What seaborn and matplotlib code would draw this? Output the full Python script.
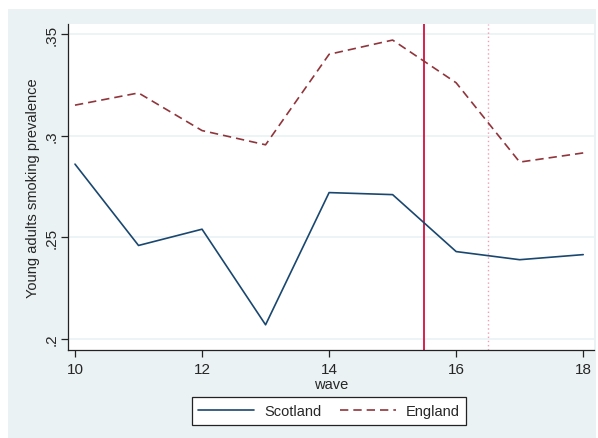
import matplotlib
matplotlib.use("Agg")
import matplotlib.pyplot as plt
from matplotlib.patches import Rectangle
import seaborn as sns
import pandas as pd

# Smoking prevalence among young adults by survey wave
waves = [10, 11, 12, 13, 14, 15, 16, 17, 18]
scotland = [0.286, 0.246, 0.254, 0.207, 0.272, 0.271, 0.243, 0.239, 0.2415]
england = [0.315, 0.321, 0.3025, 0.2955, 0.340, 0.347, 0.326, 0.287, 0.2915]
y_ticks = [0.2, 0.25, 0.3, 0.35]
y_tick_labels = [".2", ".25", ".3", ".35"]
x_ticks = [10, 12, 14, 16, 18]
policy_wave = 15.5
followup_wave = 16.5

df = pd.concat([
    pd.DataFrame({"wave": waves, "prev": scotland, "country": "Scotland"}),
    pd.DataFrame({"wave": waves, "prev": england, "country": "England"}),
])

sns.set_style("ticks")
plt.rcParams["font.family"] = ["Liberation Sans", "DejaVu Sans"]

bg = "#eaf2f3"
W, H = 598, 439
fig = plt.figure(figsize=(W / 100, H / 100), dpi=100, facecolor="white")
# graph region background with a thin white margin
fig.patches.append(Rectangle((8 / W, 0), 588 / W, 1 - 10 / H,
                             transform=fig.transFigure, facecolor=bg,
                             edgecolor="none", zorder=-10))

ax = fig.add_axes([68 / W, 1 - 351 / H, 526 / W, 326 / H])
ax.set_facecolor("white")

sns.lineplot(data=df, x="wave", y="prev", hue="country", style="country",
             palette={"Scotland": "#1a476f", "England": "#90353b"},
             dashes={"Scotland": "", "England": (5, 3)},
             linewidth=1.2, ax=ax, legend=False)

ax.axvline(policy_wave, color="#d91e4e", lw=1.4, zorder=1)
ax.axvline(followup_wave, color="#f29cb4", lw=1.0, ls=(0, (1, 2)), zorder=1)

ax.set_xlim(9.89, 18.17)
ax.set_ylim(0.1946, 0.3549)
ax.set_yticks(y_ticks)
ax.set_yticklabels(y_tick_labels, rotation=90, va="center")
ax.set_xticks(x_ticks)
ax.tick_params(axis="both", labelsize=11, length=5, width=0.9, color="#222222")
ax.tick_params(axis="y", pad=2)
ax.yaxis.grid(True, color=bg, lw=1.2)
ax.set_axisbelow(True)

for side in ("top", "right"):
    ax.spines[side].set_visible(False)
for side in ("left", "bottom"):
    ax.spines[side].set_color("#222222")
    ax.spines[side].set_linewidth(0.9)

ax.set_xlabel("wave", fontsize=10.5, labelpad=1)
ax.set_ylabel("Young adults smoking prevalence", fontsize=10.5, labelpad=3)

handles = [
    plt.Line2D([], [], color="#1a476f", lw=1.2),
    plt.Line2D([], [], color="#90353b", lw=1.2, ls=(0, (5, 3))),
]
leg = fig.legend(handles, ["Scotland", "England"], ncol=2, loc="center",
                 bbox_to_anchor=(329 / W, 1 - 412 / H), fontsize=10.5,
                 handlelength=3.8, columnspacing=1.3, frameon=True,
                 fancybox=False, borderpad=0.45, handletextpad=0.7)
leg.get_frame().set_edgecolor("#222222")
leg.get_frame().set_linewidth(0.9)
leg.get_frame().set_facecolor("white")
leg.get_frame().set_alpha(1)

fig.savefig("out.png", dpi=100, facecolor="white")
